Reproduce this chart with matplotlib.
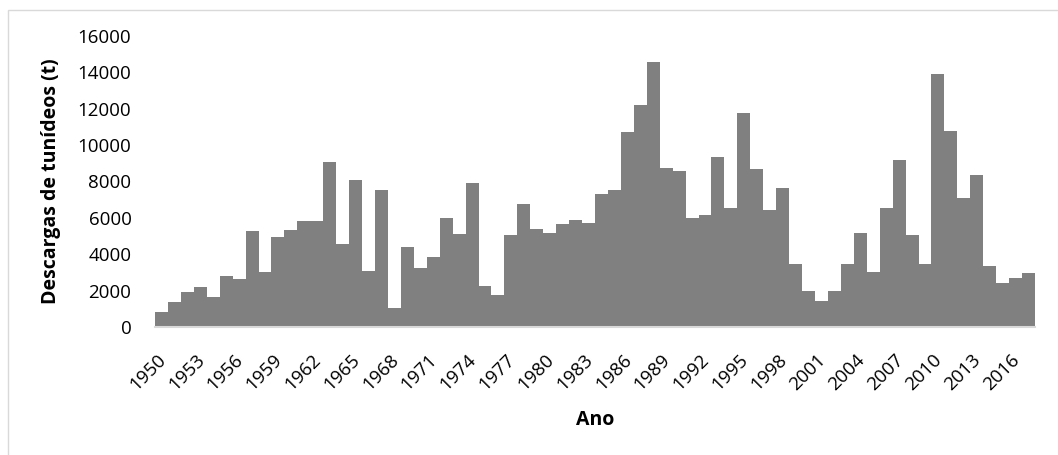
import matplotlib
matplotlib.use("Agg")
import matplotlib.pyplot as plt
import matplotlib.transforms as mtransforms
from matplotlib.patches import Rectangle

plt.rcParams['font.family'] = ['Open Sans', 'DejaVu Sans']

years = list(range(1950, 2018))
landings = [
    820, 1380, 1900, 2200, 1630, 2820, 2620, 5260, 3040, 4950,
    5350, 5850, 5810, 9070, 4540, 8080, 3100, 7510, 1070, 4420,
    3230, 3870, 6010, 5110, 7900, 2280, 1780, 5040, 6780, 5370,
    5190, 5660, 5900, 5710, 7330, 7510, 10740, 12180, 14580, 8740,
    8570, 5970, 6180, 9320, 6520, 11780, 8700, 6410, 7620, 3460,
    2000, 1410, 1980, 3450, 5150, 3040, 6520, 9160, 5060, 3460,
    13920, 10750, 7090, 8370, 3350, 2440, 2690, 2990,
]
tick_years = list(range(1950, 2018, 3))
y_ticks = list(range(0, 16001, 2000))

fig = plt.figure(figsize=(10.58, 4.55), dpi=100)
ax = fig.add_axes([155 / 1058, 1 - 327 / 455, 880 / 1058, (327 - 36) / 455])

ax.bar(years, landings, width=1.0, color='#808080', edgecolor='none')

ax.set_xlim(years[0] - 0.5, years[-1] + 0.5)
ax.set_ylim(0, 16000)
ax.set_yticks(y_ticks)
ax.set_yticklabels([str(v) for v in y_ticks])
ax.set_xticks(tick_years)
ax.set_xticklabels([str(y) for y in tick_years], rotation=45, ha='right',
                   rotation_mode='anchor')

ax.tick_params(axis='both', length=0, labelsize=13.5, colors='black')
ax.tick_params(axis='y', pad=17)
ax.tick_params(axis='x', pad=17)

# shift rotated year labels a little left so their top corner sits under the bar
shift = mtransforms.ScaledTranslation(-5 / 100, 0, fig.dpi_scale_trans)
for lbl in ax.get_xticklabels():
    lbl.set_transform(lbl.get_transform() + shift)

for s in ['top', 'right', 'left']:
    ax.spines[s].set_visible(False)
ax.spines['bottom'].set_color('#d9d9d9')
ax.spines['bottom'].set_linewidth(1.5)

ax.set_ylabel('Descargas de tunídeos (t)', fontsize=14, fontweight='bold',
              labelpad=12)
ax.set_xlabel('Ano', fontsize=14, fontweight='bold', labelpad=12)

fig.patches.append(Rectangle((7.5 / 1058, -0.1), 2, 1 - 9.5 / 455 + 0.1,
                             transform=fig.transFigure, fill=False,
                             edgecolor='#d9d9d9', linewidth=1))

fig.savefig('out.png', dpi=100)
